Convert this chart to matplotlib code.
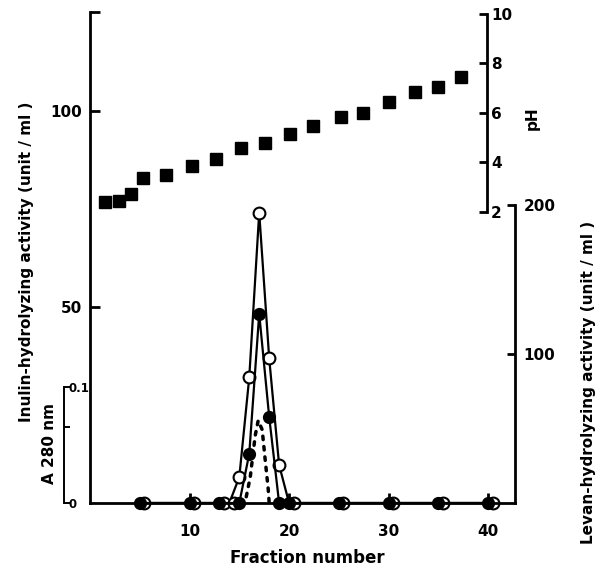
"""
Elution profile: inulin / levan hydrolyzing activity, A280 and pH vs fraction.
"""
import numpy as np
import matplotlib.pyplot as plt
from matplotlib.transforms import offset_copy

plt.rcParams['font.family'] = ['DejaVu Sans']
plt.rcParams['font.weight'] = 'bold'

# values
inulin_frac = [5, 10, 13, 14, 15, 16, 17, 18, 19, 20, 25, 30, 35, 40]
inulin_act = [0, 0, 0, 0, 6.6, 32, 74, 37, 9.7, 0, 0, 0, 0, 0]

levan_frac = [5, 10, 13, 15, 16, 17, 18, 19, 20, 25, 30, 35, 40]
levan_act = [0, 0, 0, 0, 33, 127, 58, 0, 0, 0, 0, 0, 0]

a280_frac = [15.7, 16.1, 16.6, 16.9, 17.3, 17.6, 17.9, 18.0]
a280_abs = [0.005, 0.022, 0.058, 0.071, 0.063, 0.037, 0.012, 0.0]

ph_frac = [1.5, 2.9, 4.1, 5.3, 7.6, 10.2, 12.7, 15.2, 17.6, 20.1,
           22.4, 25.2, 27.4, 30.0, 32.7, 35.0, 37.3]
ph_val = [2.40, 2.43, 2.72, 3.36, 3.49, 3.85, 4.13, 4.58, 4.78, 5.15,
          5.47, 5.83, 6.00, 6.44, 6.85, 7.06, 7.45]

W, H = 601, 569
XMAX = 42.7


def box(x0, y0, x1, y1):
    # pixel box (top-left origin) -> figure fraction rect
    return [x0 / W, 1 - y1 / H, (x1 - x0) / W, (y1 - y0) / H]


def bare(a):
    a.set_facecolor('none')
    for s in a.spines.values():
        s.set_visible(False)
    a.set_xlim(0, XMAX)
    a.set_xticks([])


fig = plt.figure(figsize=(W / 100, H / 100), dpi=100)

# pH scale (upper right)
ax_ph = fig.add_axes(box(90, 14, 515, 211.7), zorder=1)
bare(ax_ph)
ax_ph.set_ylim(2, 10)
ax_ph.spines['right'].set_visible(True)
ax_ph.spines['right'].set_position(('data', 39.87))
ax_ph.spines['right'].set_linewidth(2)
ax_ph.yaxis.tick_right()
ax_ph.set_yticks([2, 4, 6, 8, 10])
ax_ph.tick_params(axis='y', direction='in', length=6, width=2, pad=3, labelsize=11)
ax_ph.plot(ph_frac, ph_val, 's', color='black', ms=8.5, clip_on=False)

# A280 scale (small, lower left)
ax_a = fig.add_axes(box(90, 387, 515, 502.5), zorder=1)
bare(ax_a)
ax_a.set_ylim(0, 0.1)
ax_a.spines['left'].set_visible(True)
ax_a.spines['left'].set_position(('outward', 18.7))
ax_a.spines['left'].set_linewidth(1.4)
ax_a.set_yticks([0, 0.065, 0.1])
ax_a.set_yticklabels(['0', '', '0.1'])
ax_a.tick_params(axis='y', direction='in', length=4, width=1.4, pad=-3.5, labelsize=8.5)
for lbl in ax_a.get_yticklabels():
    lbl.set_horizontalalignment('left')
ax_a.plot(a280_frac, a280_abs, color='black', lw=2.5,
          linestyle=(0, (1, 2)), dash_capstyle='round')

# main axes: inulin activity (open circles)
ax = fig.add_axes(box(90, 12.5, 515, 503), zorder=2)
ax.set_facecolor('none')
ax.set_xlim(0, XMAX)
ax.set_ylim(0, 125)
ax.spines['top'].set_visible(False)
ax.spines['right'].set_visible(False)
ax.spines['left'].set_linewidth(2)
ax.spines['bottom'].set_linewidth(2)
ax.set_xticks([10, 20, 30, 40])
ax.set_yticks([50, 100, 125])
ax.set_yticklabels(['50', '100', ''])
ax.tick_params(axis='both', direction='in', length=7, width=2, labelsize=11)
ax.tick_params(axis='x', pad=15)
ax.tick_params(axis='y', pad=6)

inulin_frac = np.array(inulin_frac)
inulin_act = np.array(inulin_act)
ax.plot(inulin_frac, inulin_act, color='black', lw=1.6, clip_on=False)
base = inulin_act == 0
shifted = offset_copy(ax.transData, fig=fig, x=4.5, y=0, units='dots')
ax.plot(inulin_frac[~base], inulin_act[~base], 'o', ms=8.5, mfc='white',
        mec='black', mew=1.5, clip_on=False)
ax.plot(inulin_frac[base], inulin_act[base], 'o', ms=8.5, mfc='white',
        mec='black', mew=1.5, clip_on=False, transform=shifted)

# levan scale (lower right, filled circles drawn on top)
ax_lev = fig.add_axes(box(90, 205, 515, 503), zorder=3)
bare(ax_lev)
ax_lev.set_ylim(0, 200)
ax_lev.spines['right'].set_visible(True)
ax_lev.spines['right'].set_linewidth(2)
ax_lev.yaxis.tick_right()
ax_lev.set_yticks([100, 200])
ax_lev.tick_params(axis='y', direction='in', length=6, width=2, pad=6, labelsize=11)
ax_lev.plot(levan_frac, levan_act, color='black', lw=1.6, marker='o', ms=8.5,
            mfc='black', mec='black', clip_on=False)

# axis titles
fig.text(27 / W, 1 - 262 / H, 'Inulin-hydrolyzing activity (unit / ml )',
         rotation=90, ha='center', va='center', fontsize=11)
fig.text(50 / W, 1 - 443 / H, 'A 280 nm', rotation=90,
         ha='center', va='center', fontsize=11)
fig.text(532 / W, 1 - 118 / H, 'pH', rotation=90,
         ha='center', va='center', fontsize=11)
fig.text(588 / W, 1 - 382 / H, 'Levan-hydrolyzing activity (unit / ml )',
         rotation=90, ha='center', va='center', fontsize=11)
fig.text(307 / W, 1 - 558 / H, 'Fraction number', ha='center', va='center',
         fontsize=12)

fig.savefig('out.png', dpi=100)
